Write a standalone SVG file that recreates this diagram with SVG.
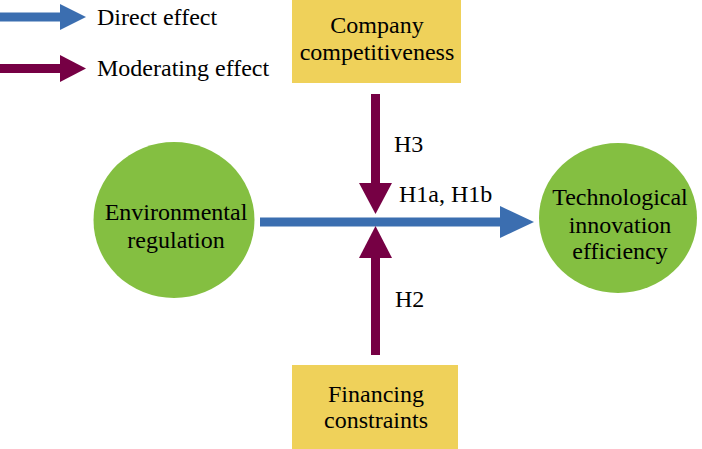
<svg xmlns="http://www.w3.org/2000/svg" width="702" height="449" viewBox="0 0 702 449">
<style>
text{font-family:"Times New Roman",Times,Tinos,"Liberation Serif","DejaVu Serif","Noto Serif",serif;font-size:24px;fill:#000}
.c{text-anchor:middle}
.circ{fill:#84bf41}
.box{fill:#efd15a}
.blue{fill:#3b6eb0}
.mod{fill:#760044}
</style>
<rect width="702" height="449" fill="#fff"/>
<g id="legend">
<rect class="blue" x="0" y="12.5" width="61" height="9"/>
<polygon class="blue" points="60,4 86,17 60,30"/>
<text x="97" y="25">Direct effect</text>
<rect class="mod" x="0" y="64" width="61" height="9"/>
<polygon class="mod" points="60,55 86,68.5 60,82"/>
<text x="97" y="76">Moderating effect</text>
</g>
<g id="node-company">
<rect class="box" x="292" y="0" width="169" height="83"/>
<text class="c" x="377" y="33">Company</text>
<text class="c" x="377" y="60">competitiveness</text>
</g>
<g id="node-financing">
<rect class="box" x="292" y="365" width="166" height="84"/>
<text class="c" x="376" y="402">Financing</text>
<text class="c" x="376" y="428">constraints</text>
</g>
<g id="node-env">
<ellipse class="circ" cx="174" cy="220" rx="80.5" ry="78"/>
<text class="c" x="176" y="220">Environmental</text>
<text class="c" x="176" y="248">regulation</text>
</g>
<g id="node-tech">
<ellipse class="circ" cx="618" cy="218" rx="79" ry="75"/>
<text class="c" x="620" y="205">Technological</text>
<text class="c" x="620" y="233">innovation</text>
<text class="c" x="620" y="259">efficiency</text>
</g>
<g id="connectors">
<rect class="blue" x="260" y="217.5" width="241" height="9"/>
<polygon class="blue" points="500,206 534,222 500,238"/>
<rect class="mod" x="371" y="94" width="9" height="90"/>
<polygon class="mod" points="359,183 392,183 375.5,214"/>
<rect class="mod" x="371" y="256" width="9" height="99"/>
<polygon class="mod" points="359,258 392,258 375.5,226"/>
<text x="394" y="152">H3</text>
<text x="399" y="202">H1a, H1b</text>
<text x="395" y="307">H2</text>
</g>
</svg>
